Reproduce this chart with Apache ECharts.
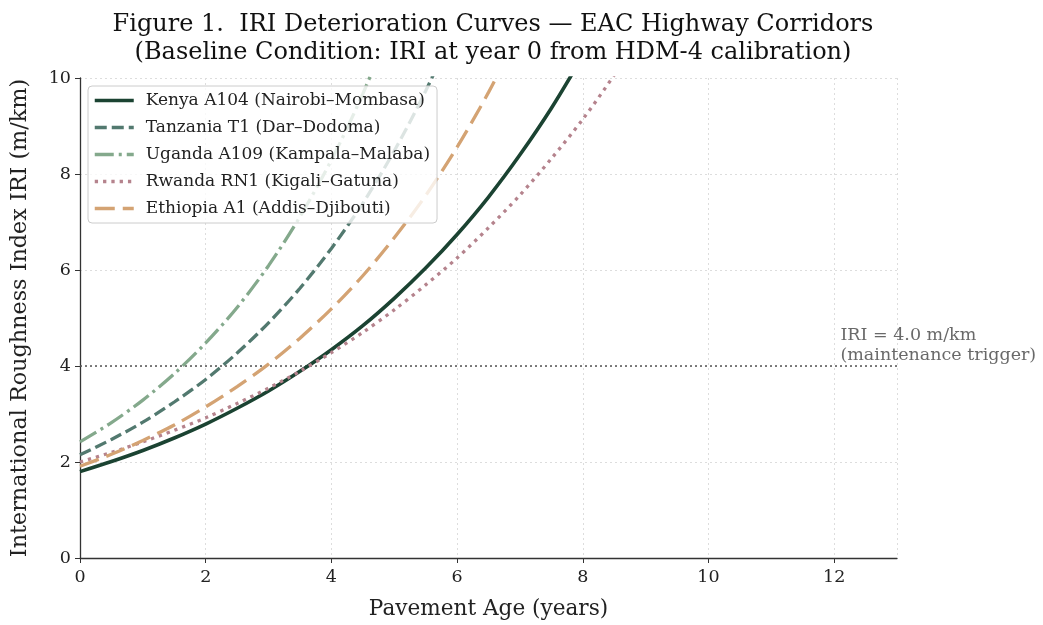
<!DOCTYPE html>
<html>
<head>
<meta charset="utf-8">
<script src="https://cdn.jsdelivr.net/npm/echarts@6/dist/echarts.min.js"></script>
<style>html,body{margin:0;padding:0;background:#fff}#c{width:1043px;height:625px}</style>
</head>
<body>
<div id="c"></div>
<script>
const years = [0,0.5,1,1.5,2,2.5,3,3.5,4,4.5,5,5.5,6,6.5,7,7.5,8,8.5,9];
const kenya    = [1.80,2.01,2.24,2.50,2.79,3.12,3.48,3.89,4.34,4.84,5.41,6.04,6.74,7.52,8.40,9.37,10.46];
const tanzania = [2.15,2.47,2.83,3.25,3.72,4.27,4.90,5.62,6.45,7.39,8.48,9.73,11.16];
const uganda   = [2.42,2.82,3.29,3.84,4.48,5.22,6.09,7.11,8.29,9.67,11.28];
const rwanda   = [2.00,2.20,2.42,2.66,2.92,3.22,3.54,3.89,4.28,4.70,5.17,5.69,6.25,6.88,7.56,8.32,9.14,10.06,11.06];
const ethiopia = [1.91,2.16,2.45,2.77,3.15,3.57,4.04,4.58,5.19,5.88,6.67,7.55,8.56,9.70,10.99];
const seriesNames = ['Kenya A104 (Nairobi–Mombasa)','Tanzania T1 (Dar–Dodoma)','Uganda A109 (Kampala–Malaba)','Rwanda RN1 (Kigali–Gatuna)','Ethiopia A1 (Addis–Djibouti)'];
const thresholdX = [0, 13];
const thresholdY = [4, 4];
const annotation = [12.1, 4.0];
const annotationText = 'IRI = 4.0 m/km\n(maintenance trigger)';

const font = 'DejaVu Serif';
const pair = v => v.map((y,i)=>[years[i], y]);
const styles = [
  {color:'#1b4332', type:'solid', width:3.6},
  {color:'#52796f', type:[12,5], width:3.3},
  {color:'#84a98c', type:[19,5,3,5], width:3.3},
  {color:'#b5838d', type:[3.3,5], width:3.3},
  {color:'#d4a373', type:[20,8], width:3.3}
];
const allVals = [kenya, tanzania, uganda, rwanda, ethiopia];
const series = allVals.map((v,i)=>({
  name: seriesNames[i], type:'line', data: pair(v), smooth: 0.3, showSymbol:false, symbol:'none',
  lineStyle: {color: styles[i].color, type: styles[i].type, width: styles[i].width, cap:'butt'},
  itemStyle: {color: styles[i].color}, z: 2, clip: true
}));
series.push({
  name:'threshold', type:'line', data: thresholdX.map((x,i)=>[x, thresholdY[i]]), showSymbol:false, symbol:'none',
  lineStyle:{color:'#555', type:[2,3], width:1.6}, z:1, silent:true
});
series.push({
  name:'annot', type:'scatter', data:[annotation], symbolSize:0, silent:true,
  label:{show:true, formatter: annotationText, position:[0,-41], align:'left', verticalAlign:'top',
    fontFamily:font, fontSize:17.5, color:'#444', lineHeight:20}
});

const chart = echarts.init(document.getElementById('c'));
chart.setOption({
  animation:false,
  backgroundColor:'#fff',
  title:{
    text:'Figure 1.  IRI Deterioration Curves — EAC Highway Corridors\n(Baseline Condition: IRI at year 0 from HDM-4 calibration)',
    left:488, top:6, textAlign:'center',
    textStyle:{fontFamily:font, fontSize:24, fontWeight:'normal', color:'#111', lineHeight:28}
  },
  legend:{
    data: seriesNames, orient:'vertical', left:88, top:86, z:10,
    itemWidth:39, itemHeight:16, itemGap:10,
    itemStyle:{opacity:0},
    lineStyle:{width:3.5},
    backgroundColor:'rgba(255,255,255,0.8)', borderColor:'#ccc', borderWidth:1, borderRadius:4,
    padding:[6,7,6,5],
    textStyle:{fontFamily:font, fontSize:17, color:'#222', lineHeight:16, padding:[0,0,0,7]}
  },
  grid:{left:80, right:146, top:78, bottom:65, containLabel:false},
  xAxis:{
    type:'value', min:0, max:13, interval:2,
    name:'Pavement Age (years)', nameLocation:'middle', nameGap:40,
    nameTextStyle:{fontFamily:font, fontSize:21.6, color:'#222'},
    axisLine:{show:true, lineStyle:{color:'#333', width:1.3}},
    axisTick:{show:true, length:5, lineStyle:{color:'#333'}},
    axisLabel:{fontFamily:font, fontSize:17.5, color:'#222', showMaxLabel:false, margin:10},
    splitLine:{show:true, lineStyle:{color:'#ddd', type:[2,3], width:1}}
  },
  yAxis:{
    type:'value', min:0, max:10, interval:2,
    name:'International Roughness Index IRI (m/km)', nameLocation:'middle', nameGap:49,
    nameTextStyle:{fontFamily:font, fontSize:22.3, color:'#222'},
    axisLine:{show:true, lineStyle:{color:'#333', width:1.3}},
    axisTick:{show:true, length:5, lineStyle:{color:'#333'}},
    axisLabel:{fontFamily:font, fontSize:17.5, color:'#222', margin:9},
    splitLine:{show:true, lineStyle:{color:'#ddd', type:[2,3], width:1}}
  },
  series: series
});
</script>
</body>
</html>
